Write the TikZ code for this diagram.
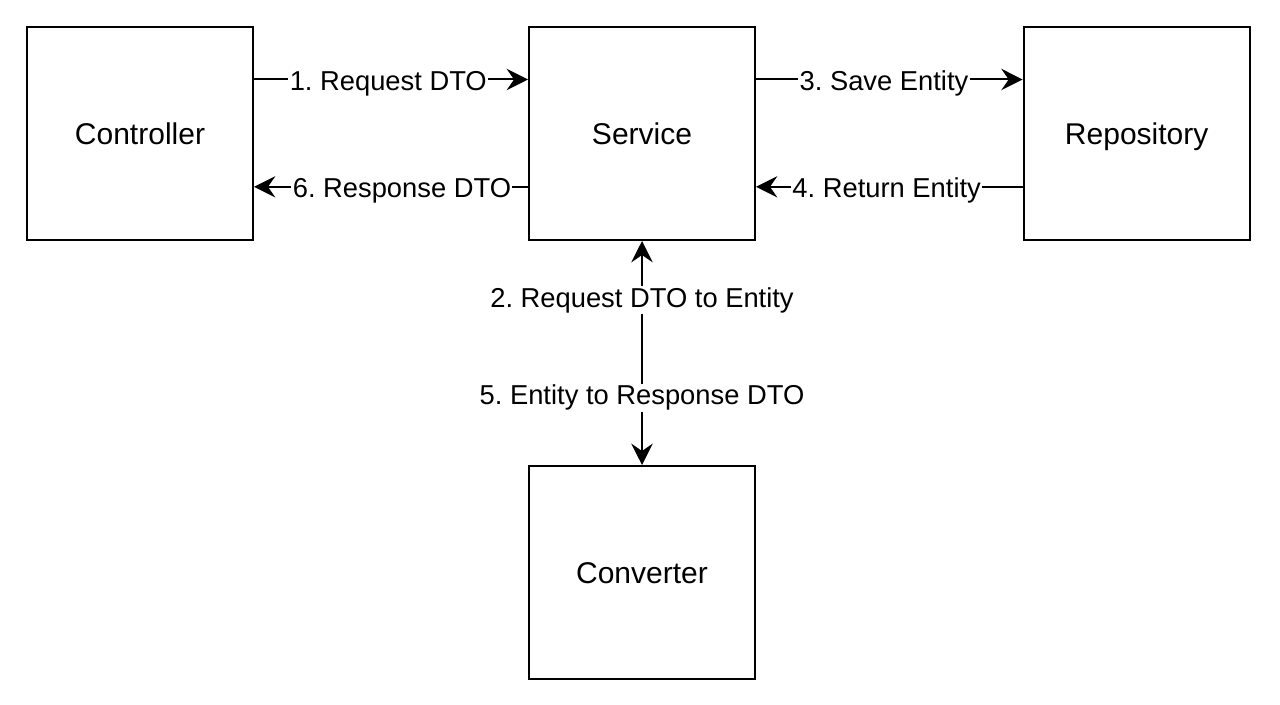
\documentclass[tikz,border=0pt]{standalone}
\usepackage{fontspec}
\setmainfont{Liberation Sans}
\usepackage{tikz}
\usetikzlibrary{arrows.meta, positioning, calc}

\tikzset{
    layer/.style={rectangle, draw, line width=1.5pt, minimum width=169.5pt, minimum height=159.75pt, inner sep=0pt, text height=16pt, text depth=0pt, font=\fontsize{22.5}{27}\selectfont},
    flow/.style={line width=1.5pt, -{Stealth[length=16pt, width=16pt, inset=5.5pt]}},
    msg/.style={fill=white, inner sep=1pt, font=\fontsize{20.5}{24}\selectfont},
    hmsg/.style={msg, yshift=-3pt}
}

\begin{document}
\frenchspacing
\begin{tikzpicture}
        % Nodes
        \node (Controller) [layer] {Controller};
        \node (Service) [layer, right=205.5pt of Controller] {Service};
        \node (Repository) [layer, right=200pt of Service] {Repository};
        \node (Converter) [layer, below=168pt of Service] {Converter};

        % Page margins
        \path[use as bounding box] ($(Controller.north west)+(-19.5pt,19.5pt)$) rectangle ++(960pt,-528.75pt);

        % Controller <-> Service
        \draw[flow] ($(Controller.east)+(0,40.5pt)$) -- node[hmsg, pos=0.49] {1. Request DTO} ($(Service.west)+(0,40.5pt)$);
        \draw[flow] ($(Service.west)+(0,-40pt)$) -- node[hmsg, pos=0.46] {6. Response DTO} ($(Controller.east)+(0,-40pt)$);

        % Service <-> Repository
        \draw[flow] ($(Service.east)+(0,40.5pt)$) -- node[hmsg, pos=0.48] {3. Save Entity} ($(Repository.west)+(0,40.5pt)$);
        \draw[flow] ($(Repository.west)+(0,-40pt)$) -- node[hmsg, pos=0.51] {4. Return Entity} ($(Service.east)+(0,-40pt)$);

        % Service <-> Converter
        \draw[flow, {Stealth[length=16pt, width=16pt, inset=5.5pt]}-{Stealth[length=16pt, width=16pt, inset=5.5pt]}] (Converter) -- node[msg, pos=0.735] {2. Request DTO to Entity} node[msg, pos=0.30] {5. Entity to Response DTO} (Service);
    \end{tikzpicture}
\end{document}
